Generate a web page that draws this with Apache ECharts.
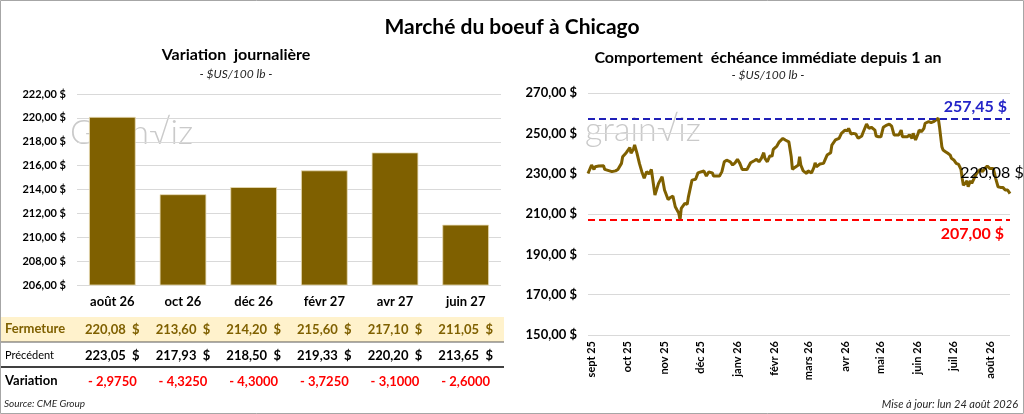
<!DOCTYPE html>
<html><head><meta charset="utf-8">
<script src="https://cdn.jsdelivr.net/npm/echarts@6/dist/echarts.min.js"></script>
<style>html,body{margin:0;padding:0;background:#fff}#c{width:1024px;height:414px}</style>
</head><body><div id="c"></div>
<script>
// ---- Left chart / table data ----
const barCategories = ['août 26', 'oct 26', 'déc 26', 'févr 27', 'avr 27', 'juin 27'];
const closing = [220.08, 213.60, 214.20, 215.60, 217.10, 211.05];
const previous = [223.05, 217.93, 218.50, 219.33, 220.20, 213.65];
const variation = [-2.9750, -4.3250, -4.3000, -3.7250, -3.1000, -2.6000];
const leftAxisMin = 206, leftAxisMax = 222, leftAxisStep = 2;

// ---- Right chart data ----
const monthTickDates = ['2025-09-01','2025-10-01','2025-11-01','2025-12-01','2026-01-01','2026-02-01','2026-03-01','2026-04-01','2026-05-01','2026-06-01','2026-07-01','2026-08-01'];
const monthTickLabels = ['sept 25','oct 25','nov 25','déc 25','janv 26','févr 26','mars 26','avr 26','mai 26','juin 26','juil 26','août 26'];
const historyDates = ['2025-08-29','2025-09-01','2025-09-03','2025-09-04','2025-09-07','2025-09-11','2025-09-12','2025-09-16','2025-09-18','2025-09-21','2025-09-23','2025-09-26','2025-09-27','2025-09-30',
'2025-10-03','2025-10-04','2025-10-06','2025-10-07','2025-10-09','2025-10-11','2025-10-13','2025-10-15','2025-10-17','2025-10-19','2025-10-21','2025-10-24','2025-10-27','2025-10-30',
'2025-11-01','2025-11-04','2025-11-06','2025-11-08','2025-11-10','2025-11-13','2025-11-14','2025-11-15','2025-11-18','2025-11-20','2025-11-21','2025-11-24','2025-11-27','2025-11-28','2025-11-29',
'2025-12-02','2025-12-04','2025-12-06','2025-12-08','2025-12-11','2025-12-12','2025-12-17','2025-12-19','2025-12-21','2025-12-23','2025-12-26','2025-12-28','2025-12-30',
'2026-01-01','2026-01-03','2026-01-05','2026-01-09','2026-01-12','2026-01-15','2026-01-17','2026-01-19','2026-01-21','2026-01-23','2026-01-24','2026-01-26','2026-01-28','2026-01-30','2026-01-31',
'2026-02-03','2026-02-05','2026-02-08','2026-02-10','2026-02-13','2026-02-14','2026-02-15','2026-02-16','2026-02-18','2026-02-21','2026-02-22','2026-02-23','2026-02-25','2026-02-28',
'2026-03-01','2026-03-04','2026-03-06','2026-03-07','2026-03-08','2026-03-11','2026-03-14','2026-03-15','2026-03-17','2026-03-20','2026-03-21','2026-03-24','2026-03-27','2026-03-29',
'2026-04-01','2026-04-03','2026-04-04','2026-04-06','2026-04-08','2026-04-10','2026-04-12','2026-04-15','2026-04-16','2026-04-19','2026-04-21','2026-04-23','2026-04-26','2026-04-27','2026-04-29',
'2026-05-01','2026-05-03','2026-05-06','2026-05-08','2026-05-10','2026-05-12','2026-05-16','2026-05-18','2026-05-19','2026-05-23','2026-05-25','2026-05-27','2026-05-28','2026-05-30',
'2026-06-01','2026-06-02','2026-06-04','2026-06-06','2026-06-07','2026-06-10','2026-06-12','2026-06-14','2026-06-16','2026-06-18','2026-06-19','2026-06-21','2026-06-22','2026-06-24','2026-06-26','2026-06-28','2026-06-29',
'2026-07-01','2026-07-03','2026-07-05','2026-07-07','2026-07-08','2026-07-09','2026-07-11','2026-07-12','2026-07-13','2026-07-15','2026-07-16','2026-07-18','2026-07-20','2026-07-23','2026-07-25','2026-07-27','2026-07-29','2026-07-31',
'2026-08-03','2026-08-05','2026-08-07','2026-08-09','2026-08-11','2026-08-13','2026-08-15','2026-08-17'];
const historyValues = [230.1,234.3,232.1,233.4,233.8,233.9,232.1,231.4,231.0,231.4,232.1,235.1,238.4,240.4,
242.9,240.1,242.1,244.2,240.1,235.1,231.0,227.7,231.0,229.8,232.1,219.4,225.2,228.5,
221.9,217.2,218.2,218.9,213.6,210.3,207.0,212.8,215.3,214.8,218.5,226.8,227.2,226.5,230.4,
231.0,231.3,228.8,230.8,230.4,228.8,228.8,231.0,235.9,236.7,235.9,234.3,235.4,
237.1,235.1,232.1,232.1,235.4,236.4,237.1,235.9,237.6,240.4,237.6,235.9,238.7,238.7,242.1,
243.7,245.8,247.5,246.7,245.8,245.0,238.4,232.1,233.1,234.3,238.4,234.3,231.4,230.1,
231.4,230.4,233.1,235.4,233.4,234.8,235.1,235.9,239.2,240.4,244.2,246.7,247.5,250.0,
251.6,251.3,252.5,249.7,250.0,249.7,247.5,248.7,250.3,254.6,252.5,253.0,251.6,248.7,248.3,
248.3,253.0,254.1,254.6,253.6,249.2,249.2,251.6,248.3,248.3,249.2,247.5,250.0,246.7,
249.7,251.6,250.8,252.5,255.0,255.8,255.3,255.8,256.6,257.45,253.3,243.4,241.7,240.9,240.1,239.2,237.6,
236.8,235.1,234.6,232.1,227.7,224.3,225.5,226.5,223.5,226.5,225.2,227.7,230.1,232.1,231.0,232.6,233.8,232.6,
232.6,227.7,223.5,223.2,223.2,221.9,221.9,220.08];
const highLevel = 257.45;
const lowLevel = 207.00;
const rightAxisMin = 150, rightAxisMax = 270, rightAxisStep = 20;

// ---- helpers ----
const FONT = 'Lato, "Open Sans", "Noto Sans", sans-serif';
const fmt2 = v => v.toFixed(2).replace('.', ',');
const fmtVar = v => (v < 0 ? '- ' : '') + Math.abs(v).toFixed(4).replace('.', ',');
const ts = s => new Date(s + 'T00:00:00').getTime();
const tickTs = monthTickDates.map(ts);
const tickLabelMap = {};
tickTs.forEach((t, i) => { tickLabelMap[t] = monthTickLabels[i]; });
const lastIdx = historyValues.length - 1;

const GOLD = '#7F6000';

const chart = echarts.init(document.getElementById('c'), null, { renderer: 'canvas' });

function tableAxis(offset, fmt, color, size, weight) {
  return {
    type: 'category', gridIndex: 0, position: 'bottom', offset: offset,
    data: barCategories,
    axisLine: { show: false }, axisTick: { show: false }, splitLine: { show: false },
    axisLabel: { interval: 0, margin: 10, color: color, fontSize: size, fontWeight: weight, fontFamily: FONT,
      formatter: fmt }
  };
}

const option = {
  animation: false,
  backgroundColor: '#fff',
  textStyle: { fontFamily: FONT },
  grid: [
    { left: 77, top: 94, width: 424, height: 191 },
    { left: 588, top: 93, width: 422, height: 242 }
  ],
  xAxis: [
    tableAxis(0, (v) => v, '#000', 13, 'bold'),
    tableAxis(28, (v, i) => fmt2(closing[i]) + '  $', GOLD, 13, 'bold'),
    tableAxis(54, (v, i) => fmt2(previous[i]) + '  $', '#000', 13, 'bold'),
    tableAxis(80, (v, i) => fmtVar(variation[i]), '#FF0000', 13, 'bold'),
    {
      type: 'value', gridIndex: 1, scale: true,
      min: ts(historyDates[0]), max: ts(historyDates[lastIdx]),
      axisLine: { show: false }, axisTick: { show: false }, splitLine: { show: false },
      axisLabel: {
        customValues: tickTs, rotate: 90, margin: 6, fontSize: 11, fontWeight: 'bold', color: '#000', fontFamily: FONT,
        formatter: (v) => tickLabelMap[v] || ''
      }
    }
  ],
  yAxis: [
    {
      type: 'value', gridIndex: 0, min: leftAxisMin, max: leftAxisMax, interval: leftAxisStep,
      axisLine: { show: false }, axisTick: { show: false },
      splitLine: { lineStyle: { color: '#D9D9D9', width: 1 } },
      axisLabel: { fontSize: 11, fontWeight: 'bold', color: '#000', margin: 11, fontFamily: FONT, formatter: v => fmt2(v) + ' $' }
    },
    {
      type: 'value', gridIndex: 1, min: rightAxisMin, max: rightAxisMax, interval: rightAxisStep,
      axisLine: { show: false }, axisTick: { show: false },
      splitLine: { lineStyle: { color: '#D9D9D9', width: 1 } },
      axisLabel: { fontSize: 13, fontWeight: 'bold', color: '#000', margin: 11, fontFamily: FONT, formatter: v => fmt2(v) + ' $' }
    }
  ],
  series: [
    {
      type: 'bar', xAxisIndex: 0, yAxisIndex: 0, data: closing, barWidth: '66%',
      itemStyle: { color: GOLD, borderColor: '#E8DCB5', borderWidth: 0.8 }
    },
    {
      type: 'line', xAxisIndex: 4, yAxisIndex: 1,
      data: historyDates.map((d, i) => [ts(d), historyValues[i]]),
      showSymbol: false, symbol: 'none',
      lineStyle: { color: GOLD, width: 3 },
      z: 3,
      markLine: {
        silent: true, symbol: ['none', 'none'],
        data: [
          { yAxis: highLevel,
            lineStyle: { color: '#2020B8', type: [7, 4], width: 2 },
            label: { show: true, position: 'insideEndTop', distance: 3, formatter: fmt2(highLevel) + ' $',
              color: '#2424C8', fontSize: 16, fontWeight: 'bold', fontFamily: FONT } },
          { yAxis: lowLevel,
            lineStyle: { color: '#FF0000', type: [7, 4], width: 2 },
            label: { show: true, position: 'insideEndBottom', distance: 6, formatter: fmt2(lowLevel) + ' $',
              color: '#FF0000', fontSize: 16, fontWeight: 'bold', fontFamily: FONT } }
        ]
      },
      markPoint: {
        silent: true, symbol: 'circle', symbolSize: 0,
        data: [{ coord: [ts(historyDates[lastIdx]), historyValues[lastIdx]] }],
        label: { show: true, position: 'top', offset: [-18, -8], formatter: fmt2(historyValues[lastIdx]) + ' $',
          color: '#000', fontSize: 16, fontFamily: FONT }
      }
    }
  ],
  graphic: [
    { type: 'rect', z: -10, shape: { x: 1, y: 317, width: 503, height: 25 }, style: { fill: '#FFF2CC' } },
    { type: 'line', z: 5, shape: { x1: 1, y1: 342, x2: 504, y2: 342 }, style: { stroke: '#595959', lineWidth: 1 } },
    { type: 'line', z: 5, shape: { x1: 1, y1: 367, x2: 504, y2: 367 }, style: { stroke: '#404040', lineWidth: 2 } },
    { type: 'rect', z: 10, shape: { x: 0.5, y: 0.5, width: 1023, height: 413 }, style: { fill: 'none', stroke: '#A6A6A6', lineWidth: 1 } },
    { type: 'text', z: -5, x: 70, y: 133, style: { text: 'Grain\u221Aiz', fill: '#CACACA', font: '300 34px ' + FONT, textVerticalAlign: 'middle' } },
    { type: 'text', z: -5, x: 585, y: 130, style: { text: 'grain\u221Aiz', fill: '#CACACA', font: '300 34px ' + FONT, textVerticalAlign: 'middle' } },
    { type: 'text', x: 512, y: 27, style: { text: 'Marché du boeuf à Chicago', fill: '#000', font: 'bold 21px ' + FONT, textAlign: 'center', textVerticalAlign: 'middle' } },
    { type: 'text', x: 236, y: 55, style: { text: 'Variation  journalière', fill: '#000', font: 'bold 16px ' + FONT, textAlign: 'center', textVerticalAlign: 'middle' } },
    { type: 'text', x: 236, y: 74, style: { text: '- $US/100 lb -', fill: '#262626', font: 'italic 12px ' + FONT, textAlign: 'center', textVerticalAlign: 'middle' } },
    { type: 'text', x: 768, y: 58, style: { text: 'Comportement  échéance immédiate depuis 1 an', fill: '#000', font: 'bold 16px ' + FONT, textAlign: 'center', textVerticalAlign: 'middle' } },
    { type: 'text', x: 768, y: 75, style: { text: '- $US/100 lb -', fill: '#262626', font: 'italic 12px ' + FONT, textAlign: 'center', textVerticalAlign: 'middle' } },
    { type: 'text', x: 5, y: 329, style: { text: 'Fermeture', fill: GOLD, font: 'bold 13px ' + FONT, textVerticalAlign: 'middle' } },
    { type: 'text', x: 5, y: 355, style: { text: 'Précédent', fill: '#000', font: '11px ' + FONT, textVerticalAlign: 'middle' } },
    { type: 'text', x: 5, y: 381, style: { text: 'Variation', fill: '#000', font: 'bold 13px ' + FONT, textVerticalAlign: 'middle' } },
    { type: 'text', x: 4, y: 404, style: { text: 'Source: CME Group', fill: '#262626', font: 'italic 10px ' + FONT, textVerticalAlign: 'middle' } },
    { type: 'text', x: 1018, y: 404, style: { text: 'Mise à jour: lun 24 août 2026', fill: '#262626', font: 'italic 11px ' + FONT, textAlign: 'right', textVerticalAlign: 'middle' } }
  ]
};
chart.setOption(option);
</script>
</body></html>
